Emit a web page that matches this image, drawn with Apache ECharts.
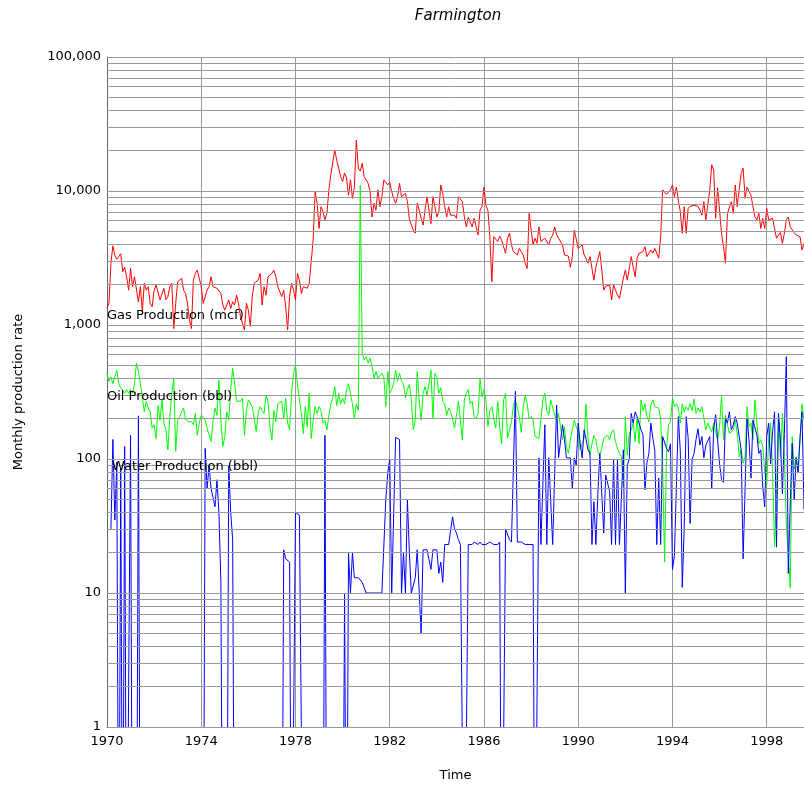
<!DOCTYPE html>
<html><head><meta charset="utf-8">
<script src="https://cdn.jsdelivr.net/npm/echarts@6/dist/echarts.min.js"></script>
<style>html,body{margin:0;padding:0;background:#fff;overflow:hidden}#c{width:804px;height:786px}</style>
</head><body><div id="c"></div>
<script>
// Monthly data starting January 1970
const startYear = 1970;
const chartTitle = 'Farmington';
const xName = 'Time';
const yName = 'Monthly production rate';
const seriesNames = ['Gas Production (mcf)', 'Oil Production (bbl)', 'Water Production (bbl)'];

const gas = [
 1330,1450,2890,3900,3300,3100,3240,3400,2500,2700,2290,1820,
 2650,1930,2290,2230,1490,1930,1260,2050,1820,1930,1450,1370,
 1820,1990,2050,1540,1580,1880,1540,1630,1930,2050,940,1450,
 2100,2160,2230,1820,1720,1450,1090,940,2160,2430,2570,2230,
 1930,1450,1410,1820,1930,2290,1930,1990,1880,1820,1720,1410,
 1290,1260,1540,1330,1490,1410,1670,1450,1150,1030,918,1450,
 1290,975,1630,2050,1990,2160,2430,1410,1930,1670,2290,2360,
 2430,2570,2290,1930,1930,1630,1820,1370,918,1630,2050,1820,
 1540,2430,2160,1720,1930,1930,1880,2050,2100,4300,9900,8100,
 5250,7640,7000,6100,6810,10200,13200,13600,20200,17000,14800,12800,
 11800,13600,12500,9300,12100,8800,10700,24000,14800,14100,16100,12800,
 12100,11400,9900,6400,8100,7200,10200,7640,9080,12100,11800,11100,
 11600,9900,8800,8100,9080,11400,9080,9300,9600,8330,6150,6250,
 5110,4840,8100,7200,6250,5570,7200,9080,7200,5700,9080,7640,
 6400,7000,11100,9600,7640,6400,7640,6600,6400,6600,6250,9080,
 9300,8330,6400,5400,6350,6350,5400,6250,6100,4700,7200,7640,
 10700,7800,7200,4560,2100,4560,4600,4200,4600,4300,3840,3430,
 4440,4840,3960,3530,3630,3330,3730,3730,3330,2890,2640,6810,
 6810,3960,4440,4070,5400,4200,4300,4440,4560,3960,4440,4700,
 5400,4700,4440,4560,3960,3330,3240,3270,2700,3240,5110,5000,
 3730,3730,3960,3330,3150,2890,3240,2640,2160,2700,2640,3530,
 2570,1820,1950,1930,1990,1540,1990,1820,1670,1580,1630,2230,
 2570,2160,2160,3240,3240,2290,3150,3430,3530,3530,3840,3240,
 3430,3630,3430,3730,3840,3150,4560,10200,9900,9450,9300,10200,
 11100,9080,10700,8550,7000,4840,7640,4840,7420,7700,7800,7800,
 7700,7700,7200,6600,8330,6100,5900,10200,15700,14300,6250,10600,
 10400,4840,3840,2890,6810,6810,8330,6810,11100,7640,7640,13600,
 14800,8800,10700,9900,9300,7640,6400,6100,6810,5250,6250,5250,
 7420,6100,6100,6250,6100,4440,4700,4900,4070,4840,6100,6400,
 5400,5400,4900,4700,4560,4560,3630,4070
];

const oil = [
 436,380,410,365,410,460,365,340,330,309,330,309,
 330,309,365,520,450,365,290,225,270,240,225,170,
 180,142,250,195,276,185,165,117,207,309,400,114,
 195,207,225,240,200,190,195,190,180,219,150,185,
 212,208,195,170,174,135,190,240,212,389,195,124,
 147,225,195,330,475,365,270,270,270,285,150,230,
 276,270,246,200,160,219,246,230,219,300,270,174,
 139,230,190,258,252,270,200,285,185,165,309,436,
 500,365,276,219,155,246,174,309,142,195,246,219,
 246,230,185,195,165,212,258,285,347,250,309,258,
 285,258,330,365,309,258,200,258,230,11000,615,548,
 580,520,565,489,400,450,400,410,436,410,246,450,
 309,330,365,460,380,436,380,365,285,330,360,276,
 165,195,450,276,195,309,347,300,365,460,200,436,
 410,309,340,270,258,212,240,225,200,170,212,270,
 276,139,276,309,330,258,270,207,200,219,400,290,
 330,276,174,230,246,200,170,270,174,130,276,309,
 144,165,190,252,276,240,207,158,246,300,258,200,
 207,195,147,147,142,139,276,309,230,212,276,270,
 212,195,219,174,139,174,124,110,139,165,195,174,
 160,117,130,143,258,139,107,130,150,139,113,107,
 120,143,147,150,139,158,165,135,120,110,104,62,
 207,107,155,165,185,135,207,130,276,230,258,207,
 190,252,276,246,240,240,200,88,17,117,180,190,
 285,246,258,240,185,258,225,246,230,258,230,280,
 219,240,225,246,240,165,185,170,160,185,160,139,
 174,300,139,212,207,155,158,165,195,155,104,117,
 93,104,246,174,185,139,276,185,130,139,124,80,
 63,139,185,80,22,59,219,104,219,104,32,20,
 11,147,84,104,80,139,258,195
];

// null = not reported, 0 = no water (falls off the bottom of the log axis)
const water = [
 null,null,30,140,35,95,0,85,0,124,0,0,
 150,0,0,0,210,0,0,0,0,0,0,0,
 0,0,0,0,0,0,0,0,0,0,0,0,
 0,0,0,0,0,0,0,0,0,0,0,0,
 0,0,120,60,90,60,52,44,70,40,12,0,
 0,0,90,40,25,0,0,0,0,0,0,0,
 0,0,0,0,0,0,0,0,0,0,0,0,
 0,0,0,0,0,0,21,18,18,17,0,0,
 40,41,38,37,0,0,0,0,0,0,0,0,
 0,0,0,150,0,0,0,0,0,0,0,0,
 0,10,0,20,10,20,13,13,13,13,12,12,
 10,10,10,10,10,10,10,10,10,10,50,78,
 100,10,10,145,150,140,10,20,10,50,20,10,
 10,13,21,21,5,21,21,21,21,15,21,21,
 21,14,17,12,23,23,23,23,37,30,28,25,
 23,23,0,0,23,23,23,24,24,23,24,23,
 23,23,23,24,24,23,23,23,24,0,0,30,
 29,25,24,24,320,24,24,24,24,23,23,23,
 23,23,0,0,102,23,23,180,23,102,100,23,
 23,253,102,102,180,140,102,102,102,60,102,90,
 185,131,102,165,140,117,110,23,48,23,55,110,
 113,28,76,74,57,23,99,23,99,23,23,117,
 10,90,100,219,185,225,207,207,165,151,59,94,
 110,185,143,117,23,72,23,147,151,120,113,130,
 15,19,62,207,115,11,31,207,143,33,99,110,
 139,168,127,147,102,127,124,147,60,170,214,139,
 92,70,67,200,185,225,165,180,207,185,147,117,
 18,18,200,139,72,195,190,151,110,117,62,44,
 147,185,92,160,225,22,219,139,55,155,580,14,
 47,131,50,102,80,147,225,42
];

const xTickInterval = 4;
const yMin = 1, yMax = 100000;

const toPoints = arr => arr.map((v, i) => [startYear + i / 12, v === null ? '-' : (v <= 0 ? 0.02 : v)]);
const xMax = startYear + (gas.length - 1) / 12;

// horizontal grid at 1..9 x each decade
const gridValues = [];
for (let d = yMin; d < yMax; d *= 10) for (let k = 1; k <= 9; k++) gridValues.push(k * d);
gridValues.push(yMax);

const FONT = '"DejaVu Sans", Verdana, sans-serif';
const chart = echarts.init(document.getElementById('c'), null, {renderer: 'canvas'});
chart.setOption({
  animation: false,
  backgroundColor: '#fff',
  grid: {left: 107, right: 0, top: 57, bottom: 59, containLabel: false, outerBoundsMode: 'none'},
  xAxis: {
    type: 'value', min: startYear, max: xMax, interval: xTickInterval,
    name: xName, nameLocation: 'middle', nameGap: 42,
    nameTextStyle: {fontFamily: FONT, fontSize: 13, color: '#000'},
    axisLine: {show: true, lineStyle: {color: '#666', width: 1}},
    axisTick: {show: false},
    axisLabel: {fontFamily: FONT, fontSize: 13, color: '#000', margin: 8, showMaxLabel: false,
      formatter: v => (Math.abs(v - Math.round(v)) < 1e-6 && (Math.round(v) - startYear) % xTickInterval === 0) ? String(Math.round(v)) : ''},
    splitLine: {show: true, lineStyle: {color: '#999', width: 1}}
  },
  yAxis: {
    type: 'log', logBase: 10, min: yMin, max: yMax,
    name: yName, nameLocation: 'middle', nameGap: 82, nameRotate: 90,
    nameTextStyle: {fontFamily: FONT, fontSize: 13, color: '#000'},
    axisLine: {show: true, lineStyle: {color: '#666', width: 1}},
    axisTick: {show: false},
    axisLabel: {fontFamily: FONT, fontSize: 13, color: '#000', margin: 6,
      formatter: v => Math.round(v).toLocaleString('en-US')},
    splitLine: {show: false}
  },
  series: [
    {type: 'line', name: 'grid', data: [], z: 1, silent: true,
      markLine: {silent: true, symbol: ['none', 'none'], animation: false,
        label: {show: false}, lineStyle: {color: '#999', type: 'solid', width: 1},
        emphasis: {disabled: true},
        data: gridValues.map(v => ({yAxis: v}))}},
    {type: 'line', name: seriesNames[0], data: toPoints(gas), showSymbol: false, symbol: 'none', z: 3,
      lineStyle: {color: '#ff0000', width: 1}, itemStyle: {color: '#ff0000'}, clip: true},
    {type: 'line', name: seriesNames[1], data: toPoints(oil), showSymbol: false, symbol: 'none', z: 3,
      lineStyle: {color: '#00ff00', width: 1}, itemStyle: {color: '#00ff00'}, clip: true},
    {type: 'line', name: seriesNames[2], data: toPoints(water), showSymbol: false, symbol: 'none', z: 3,
      lineStyle: {color: '#0000ff', width: 1}, itemStyle: {color: '#0000ff'}, clip: true, connectNulls: false}
  ],
  graphic: [
    {type: 'text', x: 458, y: 16, z: 10, style: {text: chartTitle, font: 'italic 15px ' + FONT, fill: '#000', align: 'center', verticalAlign: 'middle'}},
    {type: 'text', x: 107, y: 316, z: 10, style: {text: seriesNames[0], font: '13px ' + FONT, fill: '#000', verticalAlign: 'middle'}},
    {type: 'text', x: 107, y: 397, z: 10, style: {text: seriesNames[1], font: '13px ' + FONT, fill: '#000', verticalAlign: 'middle'}},
    {type: 'text', x: 112, y: 467, z: 10, style: {text: seriesNames[2], font: '13px ' + FONT, fill: '#000', verticalAlign: 'middle'}}
  ]
});
</script>
</body></html>
